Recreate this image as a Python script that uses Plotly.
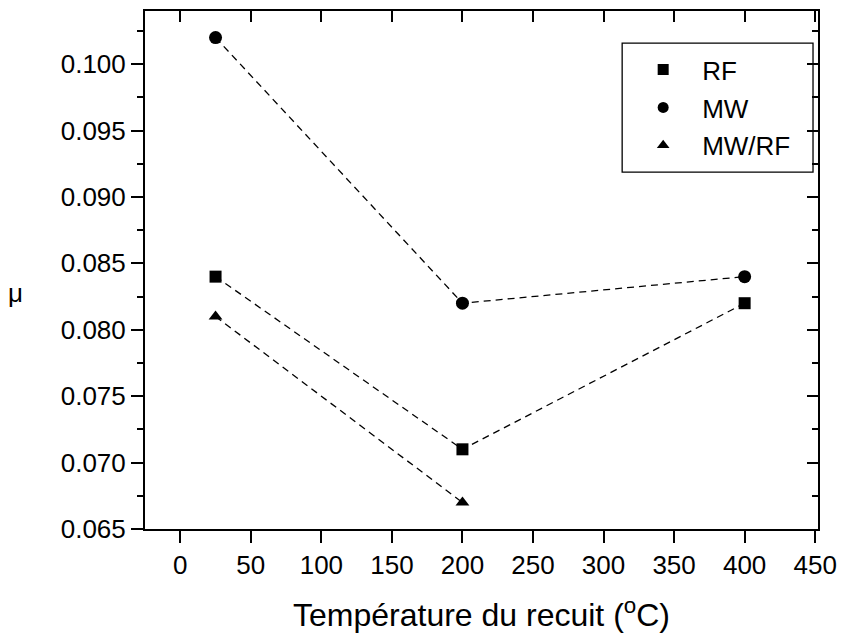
import plotly.graph_objects as go

temp_rf = [25, 200, 400]
mu_rf = [0.084, 0.071, 0.082]
temp_mw = [25, 200, 400]
mu_mw = [0.102, 0.082, 0.084]
temp_mwrf = [25, 200]
mu_mwrf = [0.081, 0.067]

x_ticks = [0, 50, 100, 150, 200, 250, 300, 350, 400, 450]
x_ticklabels = ["0", "50", "100", "150", "200", "250", "300", "350", "400", "450"]
y_ticks = [0.065, 0.070, 0.075, 0.080, 0.085, 0.090, 0.095, 0.100]
y_ticklabels = ["0.065", "0.070", "0.075", "0.080", "0.085", "0.090", "0.095", "0.100"]

FONT = "Liberation Sans, Arial, sans-serif"
line_style = dict(color="black", width=1.3, dash="7px,5px")

series = [
    ("RF", temp_rf, mu_rf, "square", 12, "a"),
    ("MW", temp_mw, mu_mw, "circle", 13, "b"),
    ("MW/RF", temp_mwrf, mu_mwrf, "triangle-up", 12, "c"),
]

fig = go.Figure()
for name, xs, ys, sym, sz, grp in series:
    fig.add_trace(go.Scatter(x=xs, y=ys, name=name, mode="lines+markers",
                             line=line_style, legendgroup=grp, showlegend=False,
                             marker=dict(symbol=sym, size=sz, color="black")))
for name, xs, ys, sym, sz, grp in series:
    fig.add_trace(go.Scatter(x=[None], y=[None], name=name, mode="markers",
                             legendgroup=grp, showlegend=True,
                             marker=dict(symbol=sym, size=11, color="black")))
fig.add_trace(go.Scatter(x=[None], y=[None], xaxis="x2", yaxis="y2",
                         showlegend=False, hoverinfo="skip"))

xr = [-25, 452]
yr = [0.065, 0.104]

fig.update_layout(
    width=843, height=633,
    margin=dict(l=145, r=25, t=11, b=104),
    paper_bgcolor="white", plot_bgcolor="white",
    font=dict(family=FONT, color="black", size=26),
    showlegend=True,
    legend=dict(x=0.712, y=0.932, xanchor="left", yanchor="top",
                borderwidth=0, bgcolor="rgba(0,0,0,0)",
                font=dict(size=26, family=FONT), tracegroupgap=1,
                itemwidth=68),
    shapes=[dict(type="rect", xref="paper", yref="paper",
                 x0=0.709, x1=0.9926, y0=0.689, y1=0.938,
                 line=dict(color="black", width=1.3), fillcolor="white",
                 layer="below")],
    xaxis=dict(range=xr, tickmode="array", tickvals=x_ticks, ticktext=x_ticklabels,
               ticks="outside", ticklen=12, tickwidth=2, tickcolor="black",
               showline=True, linewidth=2, linecolor="black", showgrid=False,
               zeroline=False, tickfont=dict(size=26), automargin=False,
               title=dict(text="Température du recuit (<sup>o</sup>C)",
                          font=dict(size=32), standoff=28)),
    yaxis=dict(range=yr, tickmode="array", tickvals=y_ticks, ticktext=y_ticklabels,
               ticks="outside", ticklen=12, tickwidth=2, tickcolor="black",
               showline=True, linewidth=2, linecolor="black", showgrid=False,
               zeroline=False, tickfont=dict(size=26), automargin=False,
               minor=dict(dtick=0.0025, ticks="outside", ticklen=6, tickwidth=2,
                          tickcolor="black", showgrid=False)),
    xaxis2=dict(range=xr, overlaying="x", side="top", tickmode="array",
                tickvals=x_ticks, ticks="inside", ticklen=11, tickwidth=2,
                tickcolor="black", showticklabels=False, showline=True,
                linewidth=2, linecolor="black", showgrid=False, zeroline=False),
    yaxis2=dict(range=yr, overlaying="y", side="right", tickmode="array",
                tickvals=y_ticks, ticks="inside", ticklen=11, tickwidth=2,
                tickcolor="black", showticklabels=False, showline=True,
                linewidth=2, linecolor="black", showgrid=False, zeroline=False,
                minor=dict(dtick=0.0025, ticks="inside", ticklen=6, tickwidth=2,
                           tickcolor="black", showgrid=False)),
    annotations=[dict(text="μ", xref="paper", yref="paper", x=-0.192, y=0.455,
                      xanchor="center", yanchor="middle", showarrow=False,
                      font=dict(size=26, family=FONT))],
)

fig.write_html("out.html")
